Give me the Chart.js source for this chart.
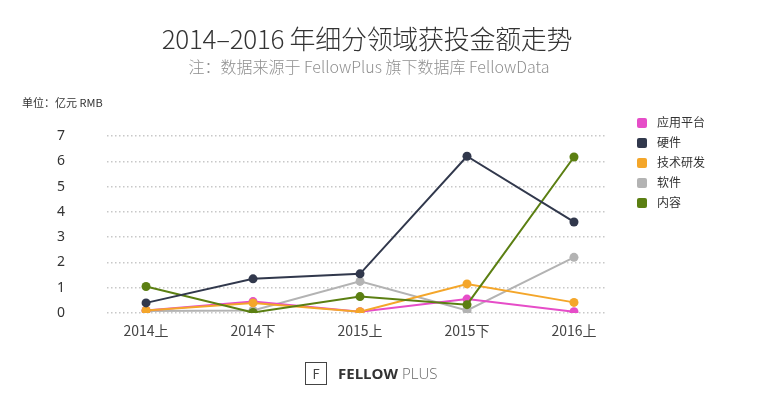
<!DOCTYPE html>
<html>
<head>
<meta charset="utf-8">
<script src="https://cdn.jsdelivr.net/npm/chart.js@4/dist/chart.umd.min.js"></script>
<style>
  body { margin: 0; background: #fff; font-family: "Noto Sans CJK SC", "Noto Sans", sans-serif; }
  #wrap { position: relative; width: 774px; height: 394px; overflow: hidden; }
  #chart { position: absolute; left: 0; top: 0; }
  .title { position: absolute; left: 0; width: 734px; top: 19px; text-align: center; font-size: 26px; font-weight: 300; color: #333; letter-spacing: -0.3px; }
  .sub { position: absolute; left: 0; width: 738px; top: 54px; text-align: center; font-size: 16px; font-weight: 300; color: #8f8f8f; }
  .unit { position: absolute; left: 22px; top: 94px; font-size: 11px; color: #333; }
  .legend { position: absolute; left: 637px; top: 114px; font-size: 12px; color: #333; }
  .legend div { height: 20px; line-height: 16px; }
  .legend span { display: inline-block; width: 10px; height: 10px; border-radius: 2px; margin-right: 10px; vertical-align: -1px; }
  .logo { position: absolute; left: 305px; top: 362px; height: 23px; }
  .logo .box { position: absolute; left: 0; top: 0; width: 20px; height: 21px; border: 1px solid #444; font-size: 13px; line-height: 21px; text-align: center; color: #444; }
  .logo .txt { position: absolute; left: 33px; top: 1px; font-family: "Open Sans", sans-serif; font-size: 15px; white-space: nowrap; color: #333; }
</style>
</head>
<body>
<div id="wrap">
  <canvas id="chart" width="774" height="394"></canvas>
  <div class="title">2014–2016 年细分领域获投金额走势</div>
  <div class="sub">注：数据来源于 FellowPlus 旗下数据库 FellowData</div>
  <div class="unit">单位：亿元 RMB</div>
  <div class="legend" id="legend"></div>
  <div class="logo">
    <div class="box">F</div>
    <div class="txt"><b>FELLOW</b> <span style="font-weight:300;color:#666">PLUS</span></div>
  </div>
</div>
<script>
const periods = ['2014上', '2014下', '2015上', '2015下', '2016上'];

const appPlatform = [0.1, 0.45, 0.05, 0.55, 0.05];
const hardware = [0.4, 1.35, 1.55, 6.2, 3.6];
const techRd = [0.1, 0.4, 0.05, 1.15, 0.42];
const software = [0.08, 0.1, 1.25, 0.1, 2.2];
const content = [1.05, 0.02, 0.65, 0.33, 6.17];

const series = [
    { name: '应用平台', values: appPlatform, color: '#e64dc8', order: 3 },
    { name: '硬件', values: hardware, color: '#31384c', order: 0 },
    { name: '技术研发', values: techRd, color: '#f4a62a', order: 2 },
    { name: '软件', values: software, color: '#b3b3b3', order: 4 },
    { name: '内容', values: content, color: '#5b7f12', order: 1 },
];

const legend = document.getElementById('legend');
series.forEach(s => {
    const row = document.createElement('div');
    row.innerHTML = `<span style="background:${s.color}"></span>${s.name}`;
    legend.appendChild(row);
});

const datasets = series.map(s => ({
    label: s.name,
    data: s.values.map((v, i) => ({ x: i, y: v })),
    borderColor: s.color,
    backgroundColor: s.color,
    pointBackgroundColor: s.color,
    pointBorderWidth: 0,
    pointRadius: 4.5,
    borderWidth: 2,
    order: s.order,
    tension: 0
}));

new Chart(document.getElementById('chart'), {
    type: 'line',
    data: { datasets },
    options: {
        responsive: false,
        animation: false,
        layout: { padding: { left: 47, right: 169, top: 136, bottom: 50 } },
        plugins: { legend: { display: false }, tooltip: { enabled: false } },
        scales: {
            x: {
                type: 'linear',
                min: -0.365,
                max: 4.29,
                grid: { display: false },
                border: { display: false },
                afterFit: scale => { scale.height = 31; },
                ticks: {
                    stepSize: 1,
                    includeBounds: false,
                    padding: 1,
                    color: '#444',
                    font: { size: 14, family: '"Noto Sans CJK SC", sans-serif' },
                    callback: v => periods[v] ?? ''
                }
            },
            y: {
                min: 0,
                max: 7,
                afterFit: scale => { scale.width = 60; },
                border: { display: false, dash: [1.5, 2.5] },
                grid: {
                    color: '#c8c8c8',
                    lineWidth: 1.5,
                    drawTicks: false
                },
                ticks: {
                    stepSize: 1,
                    padding: 42,
                    color: '#333',
                    font: { size: 14, family: '"Noto Sans", sans-serif' }
                }
            }
        }
    }
});
</script>
</body>
</html>
